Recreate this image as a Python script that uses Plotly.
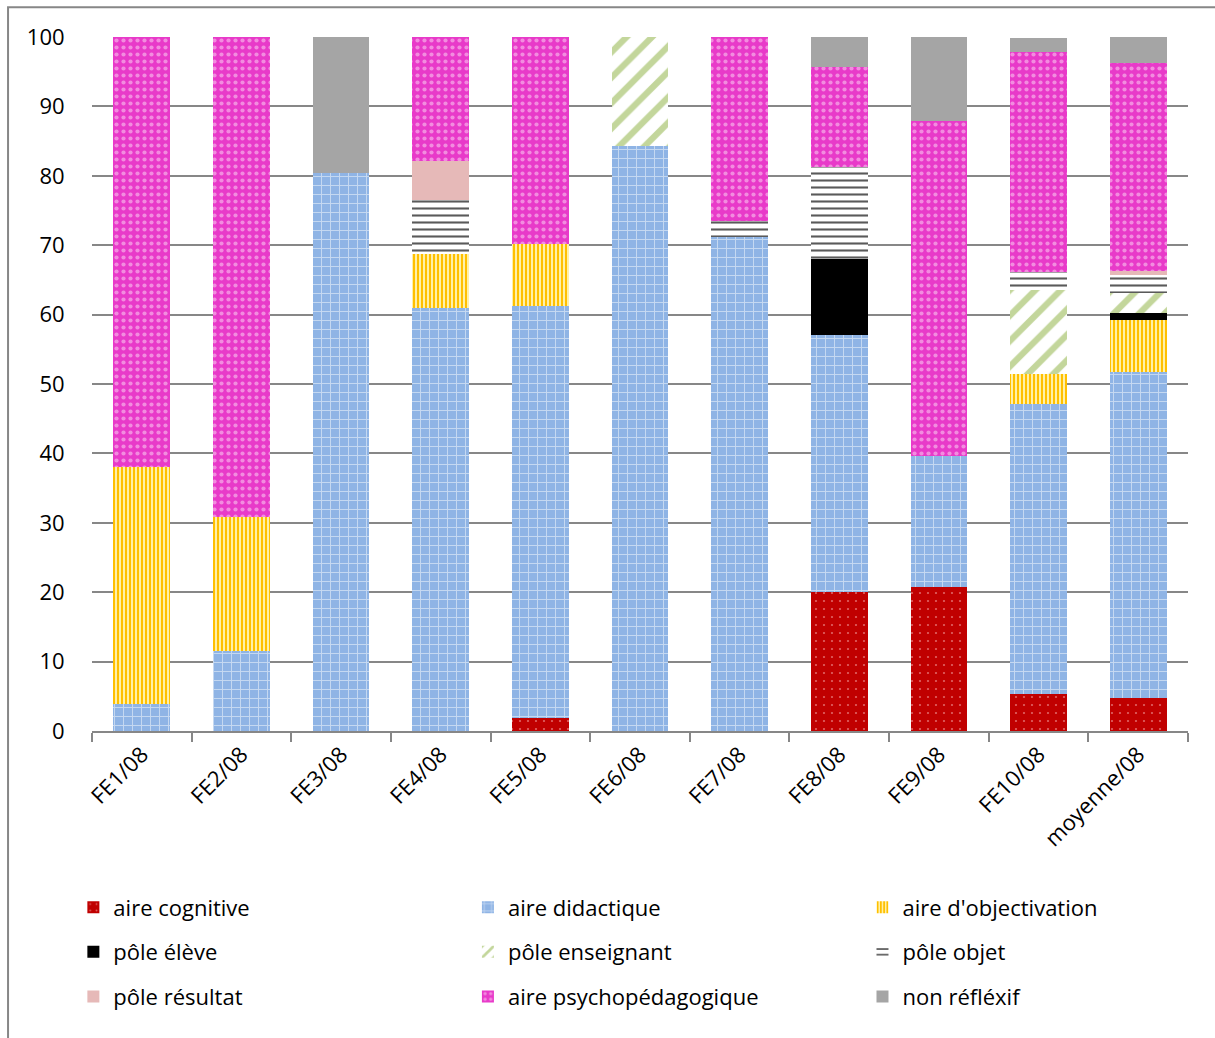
import plotly.graph_objects as go

# Categories (sessions) and share of each reflexive area / pole, in %
categories = ["FE1/08", "FE2/08", "FE3/08", "FE4/08", "FE5/08", "FE6/08",
              "FE7/08", "FE8/08", "FE9/08", "FE10/08", "moyenne/08"]

aire_cognitive = [0, 0, 0, 0, 1.9, 0, 0, 20.0, 20.7, 5.3, 4.8]
aire_didactique = [3.9, 11.5, 80.4, 61.0, 59.3, 84.3, 71.2, 37.1, 18.9, 41.8, 47.0]
aire_objectivation = [34.1, 19.3, 0, 7.7, 9.0, 0, 0, 0, 0, 4.3, 7.4]
pole_eleve = [0, 0, 0, 0, 0, 0, 0, 10.9, 0, 0, 1.1]
pole_enseignant = [0, 0, 0, 0, 0, 15.7, 0, 0, 0, 12.2, 2.8]
pole_objet = [0, 0, 0, 7.8, 0, 0, 2.3, 13.3, 0, 2.6, 2.6]
pole_resultat = [0, 0, 0, 5.6, 0, 0, 0, 0, 0, 0, 0.6]
aire_psycho = [62.0, 69.2, 0, 17.9, 29.8, 0, 26.5, 14.4, 48.3, 31.7, 29.9]
non_reflexif = [0, 0, 19.6, 0, 0, 0, 0, 4.3, 12.1, 2.0, 3.8]

y_ticks = [0, 10, 20, 30, 40, 50, 60, 70, 80, 90, 100]

FONT = "Open Sans"
FSIZE = 22

# name, values, base colour, pattern, legend column
series = [
    ("aire cognitive", aire_cognitive, "#C00000",
     dict(shape=".", fgcolor="#FFC8C8", size=8, solidity=0.06, fillmode="overlay"), "legend"),
    ("aire didactique", aire_didactique, "#8FB4E5",
     dict(shape="+", fgcolor="#FFFFFF", size=9, solidity=0.2, fillmode="overlay"), "legend2"),
    ("aire d'objectivation", aire_objectivation, "#FFC000",
     dict(shape="|", fgcolor="#FFC000", bgcolor="#FFF0A8", size=4, solidity=0.5, fillmode="replace"), "legend3"),
    ("pôle élève", pole_eleve, "#000000", dict(shape=""), "legend"),
    ("pôle enseignant", pole_enseignant, "#C3D69B",
     dict(shape="/", fgcolor="#C3D69B", bgcolor="#FFFFFF", size=18, solidity=0.35, fillmode="replace"), "legend2"),
    ("pôle objet", pole_objet, "#404040",
     dict(shape="-", fgcolor="#5A5A5A", bgcolor="#FFFFFF", size=7, solidity=0.3, fillmode="replace"), "legend3"),
    ("pôle résultat", pole_resultat, "#E6B9B8", dict(shape=""), "legend"),
    ("aire psychopédagogique", aire_psycho, "#E83AC9",
     dict(shape=".", fgcolor="#FCDDF5", size=7, solidity=0.28, fillmode="overlay"), "legend2"),
    ("non réfléxif", non_reflexif, "#A5A5A5", dict(shape=""), "legend3"),
]

fig = go.Figure()
for name, vals, color, pattern, leg in series:
    fig.add_trace(go.Bar(
        x=categories, y=vals, name=name,
        marker=dict(color=color, line=dict(width=0), pattern=pattern),
        legend=leg, legendgroup=name,
    ))

legend_common = dict(
    orientation="v", yanchor="top", xanchor="left", y=-0.224,
    font=dict(family=FONT, size=FSIZE, color="#000000"),
    bgcolor="rgba(0,0,0,0)", traceorder="grouped", tracegroupgap=13,
)

fig.update_layout(
    width=1215, height=1038,
    margin=dict(l=92, r=27, t=37, b=307),
    paper_bgcolor="#FFFFFF", plot_bgcolor="#FFFFFF",
    barmode="stack", bargap=0.43,
    font=dict(family=FONT, size=FSIZE, color="#000000"),
    legend=dict(x=-0.017, **legend_common),
    legend2=dict(x=0.343, **legend_common),
    legend3=dict(x=0.703, **legend_common),
    xaxis=dict(
        type="category", tickangle=-45, tickson="boundaries",
        ticks="outside", ticklen=9, tickwidth=2, tickcolor="#878787",
        showline=True, linecolor="#878787", linewidth=2,
        showgrid=False, tickfont=dict(family=FONT, size=FSIZE, color="#000000"),
    ),
    yaxis=dict(
        range=[0, 100], tickvals=y_ticks, showgrid=True,
        gridcolor="#878787", gridwidth=2, showline=False, zeroline=False,
        ticks="outside", ticklen=22, tickwidth=1, tickcolor="rgba(0,0,0,0)",
        tickfont=dict(family=FONT, size=FSIZE, color="#000000"),
    ),
    shapes=[dict(type="rect", xref="paper", yref="paper",
                 x0=-0.0766, x1=1.2, y0=-0.6, y1=1.043,
                 line=dict(color="#878787", width=2), fillcolor="rgba(0,0,0,0)",
                 layer="below")],
)

fig.write_html("out.html")
